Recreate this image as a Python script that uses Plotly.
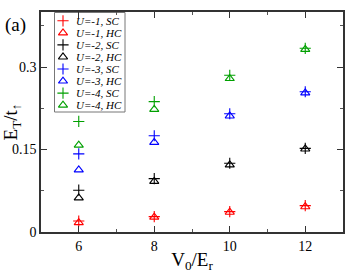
import plotly.graph_objects as go

x_vals = [6, 8, 10, 12]
u1_sc = [0.020, 0.028, 0.037, 0.048]
u1_hc = [0.017, 0.027, 0.036, 0.046]
u2_sc = [0.076, 0.097, 0.125, 0.152]
u2_hc = [0.062, 0.092, 0.122, 0.151]
u3_sc = [0.142, 0.175, 0.215, 0.255]
u3_hc = [0.113, 0.163, 0.211, 0.253]
u4_sc = [0.201, 0.237, 0.285, 0.334]
u4_hc = [0.158, 0.223, 0.279, 0.332]

series = [
    ("U=-1, SC", u1_sc, "red", "cross-thin"),
    ("U=-1, HC", u1_hc, "red", "triangle-up-open"),
    ("U=-2, SC", u2_sc, "black", "cross-thin"),
    ("U=-2, HC", u2_hc, "black", "triangle-up-open"),
    ("U=-3, SC", u3_sc, "blue", "cross-thin"),
    ("U=-3, HC", u3_hc, "blue", "triangle-up-open"),
    ("U=-4, SC", u4_sc, "#00a000", "cross-thin"),
    ("U=-4, HC", u4_hc, "#00a000", "triangle-up-open"),
]

font = "Liberation Serif, Times New Roman, serif"
W, H = 354, 274
ML, MR, MT, MB = 41, 11, 12, 42
PW, PH = W - ML - MR, H - MT - MB

fig = go.Figure()
for name, ys, col, sym in series:
    fig.add_trace(go.Scatter(
        x=x_vals, y=ys, mode="markers", name=name, showlegend=False,
        marker=dict(symbol=sym, size=8, color=col, line=dict(color=col, width=1.1)),
    ))

# custom compact legend drawn in an overlay axis measured in plot pixels
leg_x0, leg_y0, row_h = 22, 8.8, 12.05
for i, (name, ys, col, sym) in enumerate(series):
    fig.add_trace(go.Scatter(
        x=[leg_x0], y=[leg_y0 + i * row_h], mode="markers", xaxis="x2", yaxis="y2",
        showlegend=False, hoverinfo="skip",
        marker=dict(symbol=sym, size=8, color=col, line=dict(color=col, width=1.1)),
    ))
    fig.add_annotation(text=name, xref="x2", yref="y2", x=leg_x0 + 11,
                       y=leg_y0 + i * row_h, xanchor="left", yanchor="middle",
                       showarrow=False,
                       font=dict(size=11, family=font, style="italic", color="black"))
fig.add_shape(type="rect", xref="x2", yref="y2", x0=13.5, x1=84, y0=0.5, y1=100,
              line=dict(color="#777", width=1), fillcolor="white", layer="below")

fig.update_layout(
    width=W, height=H,
    margin=dict(l=ML, r=MR, t=MT, b=MB, autoexpand=False),
    paper_bgcolor="white", plot_bgcolor="white",
    font=dict(family=font, color="black"),
    showlegend=False,
    xaxis=dict(
        range=[5, 13], tickvals=[6, 8, 10, 12], ticks="inside", ticklen=6,
        tickcolor="#333", automargin=False,
        minor=dict(tickvals=[7, 9, 11], ticks="inside", ticklen=3, tickcolor="#555"),
        showgrid=False, zeroline=False, showline=True, linecolor="#333", linewidth=1.5,
        mirror="ticks", tickfont=dict(size=14, family=font),
        title=dict(text="V<sub>0</sub>/E<sub>r</sub>", font=dict(size=19, family=font), standoff=0),
    ),
    yaxis=dict(
        range=[0, 0.4], tickvals=[0, 0.15, 0.3], ticktext=["0", "0.15", "0.3"],
        ticks="inside", ticklen=6, tickcolor="#333", automargin=False,
        minor=dict(tickvals=[0.075, 0.225, 0.375], ticks="inside", ticklen=3, tickcolor="#555"),
        showgrid=False, zeroline=False, showline=True, linecolor="#333", linewidth=1.5,
        mirror="ticks", tickfont=dict(size=14, family=font),
        title=dict(text="E<sub>T</sub>/t<sub>↑</sub>", font=dict(size=19, family=font), standoff=0),
    ),
    xaxis2=dict(overlaying="x", range=[0, PW], visible=False, fixedrange=True),
    yaxis2=dict(overlaying="y", range=[PH, 0], visible=False, fixedrange=True),
)
fig.add_annotation(text="(a)", xref="paper", yref="paper", x=-0.125, y=1.0,
                   xanchor="left", yanchor="top", showarrow=False,
                   font=dict(size=19, family=font))
fig.write_html("out.html", config={"displayModeBar": False},
               post_script="document.body.style.margin='0px';")
